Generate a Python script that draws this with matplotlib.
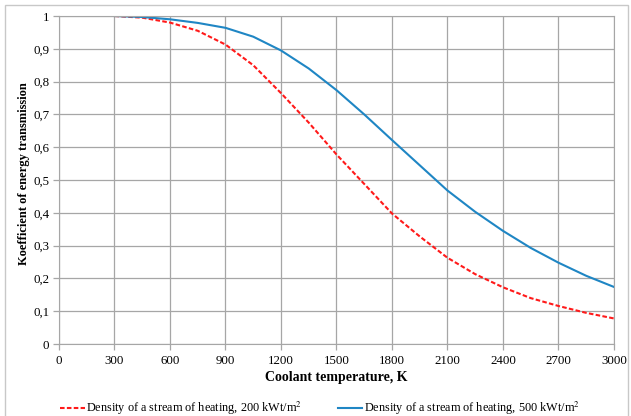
import matplotlib.pyplot as plt
from matplotlib.patches import Rectangle
from matplotlib.ticker import FuncFormatter
import numpy as np

plt.rcParams['font.family'] = ['Liberation Serif', 'DejaVu Serif']
plt.rcParams['mathtext.fontset'] = 'stix'

# temperatures, K
temp = [300, 450, 600, 750, 900, 1050, 1200, 1350, 1500, 1650, 1800,
        1950, 2100, 2250, 2400, 2550, 2700, 2850, 3000]
# 200 kWt/m2
k200 = [1.0, 0.995, 0.98, 0.955, 0.913, 0.85, 0.765, 0.675, 0.578, 0.488,
        0.398, 0.328, 0.263, 0.213, 0.173, 0.14, 0.116, 0.095, 0.078]
# 500 kWt/m2
k500 = [1.0, 0.997, 0.99, 0.979, 0.964, 0.937, 0.895, 0.84, 0.774, 0.70,
        0.622, 0.545, 0.468, 0.403, 0.345, 0.293, 0.248, 0.208, 0.174]

lbl200 = 'Density of a stream of heating, 200 kWt/m$^2$'
lbl500 = 'Density of a stream of heating, 500 kWt/m$^2$'

fig = plt.figure(figsize=(6.31, 4.16), dpi=100)
ax = fig.add_axes([0.0935, 0.173, 0.8795, 0.7885])

# thin grey frame round the whole chart (bottom edge is off the picture)
fig.patches.append(Rectangle((0.008, -0.05), 0.987, 1.038, transform=fig.transFigure,
                             fill=False, edgecolor='#c8c8c8', linewidth=1.0))

ax.plot(temp, k200, color='#ff1a1a', linestyle=(0, (2.2, 1.1)), linewidth=1.5, label=lbl200)
ax.plot(temp, k500, color='#1f86c4', linewidth=1.5, label=lbl500)

ax.set_xlim(0, 3000)
ax.set_ylim(0, 1)
ax.set_xticks(np.arange(0, 3001, 300))
ax.set_yticks(np.arange(0, 1.01, 0.1))
ax.yaxis.set_major_formatter(FuncFormatter(lambda v, p: ('%g' % round(v, 1)).replace('.', ',')))
ax.grid(True, color='#a6a6a6', linewidth=0.9)
ax.set_axisbelow(True)
for s in ax.spines.values():
    s.set_color('#a6a6a6')
ax.tick_params(axis='both', labelsize=9.3, color='#a6a6a6', length=4, width=0.9)
ax.tick_params(axis='x', pad=4)
ax.tick_params(axis='y', pad=3)

ax.set_xlabel('Coolant temperature, K', fontsize=10, fontweight='bold', labelpad=3)
ax.set_ylabel('Koefficient of energy transmission', fontsize=9, fontweight='bold')
ax.yaxis.set_label_coords(-0.053, 0.52)

fig.legend(loc='lower center', bbox_to_anchor=(0.507, -0.03), ncol=2, frameon=False,
           fontsize=8.8, handlelength=2.0, handletextpad=0.15, columnspacing=2.9)

fig.savefig('out.png', dpi=100)
